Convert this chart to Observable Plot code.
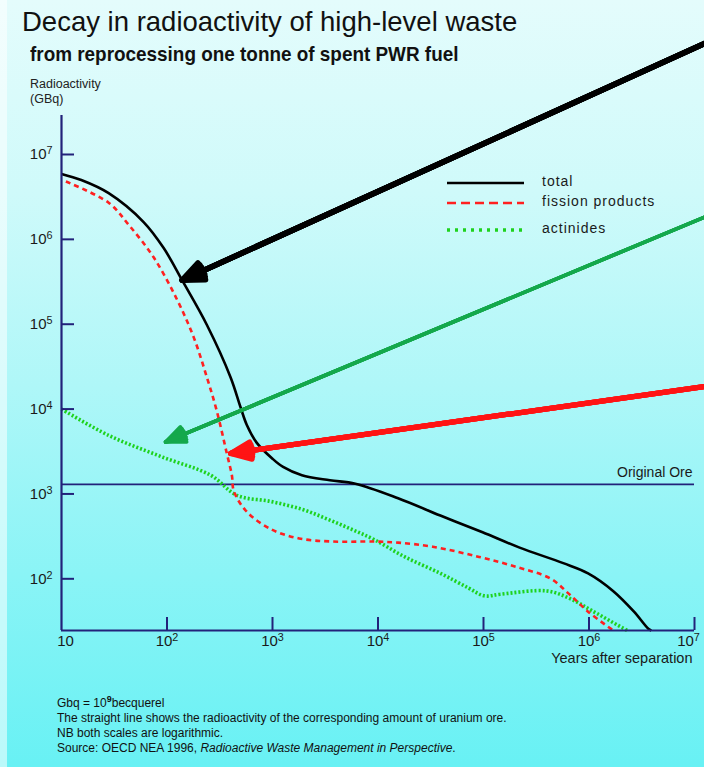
<!DOCTYPE html>
<html>
<head>
<meta charset="utf-8">
<script src="https://cdn.jsdelivr.net/npm/d3@7"></script>
<script src="https://cdn.jsdelivr.net/npm/@observablehq/plot@0.6"></script>
<style>
  html, body { margin: 0; padding: 0; }
  body {
    width: 704px; height: 767px; overflow: hidden;
    background: linear-gradient(to bottom, #e4fcfc 0%, #cffafa 25%, #aff7f8 50%, #8af4f6 75%, #68f1f4 100%);
    font-family: "Liberation Sans", Arial, Helvetica, sans-serif;
    color: #1a1a1a;
  }
  #wrap { position: relative; width: 704px; height: 767px; }
  #wrap::before { content: ""; position: absolute; left: 0; top: 0; width: 7px; height: 767px; background: rgba(255,255,255,0.55); }
  #chart { position: absolute; left: 0; top: 0; }
  .title { position: absolute; left: 22px; top: 6px; font-size: 27.5px; white-space: nowrap; color: #111; }
  .subtitle { position: absolute; left: 30px; top: 42px; font-size: 21px; font-weight: bold; white-space: nowrap;
              transform: scaleX(0.9); transform-origin: left center; color: #111; }
  .ylab { position: absolute; left: 30px; top: 77px; font-size: 12.5px; line-height: 15px; color: #222; }
  .legend { position: absolute; left: 446px; top: 172px; width: 240px; height: 70px; }
  .legend span { position: absolute; left: 96px; font-size: 14px; letter-spacing: 1px; color: #1a1a1a; white-space: nowrap; }
  .notes { position: absolute; left: 57px; top: 692px; font-size: 12px; line-height: 15px; color: #111; white-space: nowrap; }
  .notes sup { font-size: 9px; font-weight: bold; }
</style>
</head>
<body>
<div id="wrap">
  <div class="title">Decay in radioactivity of high-level waste</div>
  <div class="subtitle">from reprocessing one tonne of spent PWR fuel</div>
  <div class="ylab">Radioactivity<br>(GBq)</div>
  <div id="chart"></div>
  <div class="legend" id="legend"></div>
  <div class="notes">
    Gbq = 10<sup>9</sup>becquerel<br>
    The straight line shows the radioactivity of the corresponding amount of uranium ore.<br>
    NB both scales are logarithmic.<br>
    Source: OECD NEA 1996, <i>Radioactive Waste Management in Perspective</i>.
  </div>
</div>
<script>
// ---------------- data (years after separation, GBq) ----------------
const seriesNames = ["total", "fission products", "actinides"];

const totalYears = [10, 15.4, 28, 60, 93, 139, 239, 401, 498, 571, 710, 1000, 1260, 1900, 3500, 6100, 15500, 39000, 98000, 220000, 570000, 980000, 1690000, 2670000, 3630000, 3900000];
const totalGBq   = [5.9e6, 5.0e6, 3.5e6, 1.6e6, 7.9e5, 3.3e5, 9.8e4, 2.36e4, 1.05e4, 6.5e3, 4.0e3, 2.6e3, 2080, 1660, 1450, 1320, 890, 557, 353, 233, 153, 116, 72, 41, 26, 24.6];

const fissionYears = [11, 28, 44, 75, 124, 180, 239, 297, 369, 412, 430, 571, 964, 1790, 3700, 9200, 15500, 33000, 91000, 210000, 430000, 650000, 980000, 1700000];
const fissionGBq   = [4.8e6, 2.7e6, 1.45e6, 6.1e5, 1.97e5, 6.9e4, 2.36e4, 9.4e3, 3.0e3, 1660, 1080, 617, 385, 299, 275, 275, 267, 239, 181, 137, 101, 66, 41, 24.6];

const actinideYears = [10, 28, 87, 260, 459, 964, 1900, 3300, 5600, 9200, 18000, 39000, 72000, 102000, 147000, 400000, 650000, 1070000, 2300000];
const actinideGBq   = [1e4, 4.9e3, 2.77e3, 1660, 964, 815, 660, 507, 384, 290, 181, 116, 78, 63, 66, 72, 59, 42, 24.6];

const oreLabel = ["Original Ore"];
const oreGBq = [1300];

const xTicks = [10, 1e2, 1e3, 1e4, 1e5, 1e6, 1e7];
const yTicks = [1e2, 1e3, 1e4, 1e5, 1e6, 1e7];
const xDomain = [10, 1e7];
const yDomain = [24.6, 2.88e7];
const xLabel = ["Years after separation"];

// annotation arrows (from beyond the chart to each curve), in data units
const arrowSeries   = ["total", "actinides", "fission products"];
const arrowFromYear = [1.26e7, 1.26e7, 1.26e7];
const arrowFromGBq  = [2.04e8, 1.84e6, 1.85e4];
const arrowToYear   = [139, 97, 401];
const arrowToGBq    = [3.3e5, 4.1e3, 3.0e3];

// ---------------- styles ----------------
const navy = "#22227a";
const lineStyle = {
  "total":            {stroke: "#000000", strokeWidth: 2.6, strokeDasharray: null},
  "fission products": {stroke: "#ff2020", strokeWidth: 2.6, strokeDasharray: "5,4"},
  "actinides":        {stroke: "#1ed21e", strokeWidth: 3.6, strokeDasharray: "2,2"}
};
const arrowStyle = {
  "total":            {stroke: "#000000", strokeWidth: 5.5, head: 6.4},
  "actinides":        {stroke: "#14a84c", strokeWidth: 3.6, head: 8.8},
  "fission products": {stroke: "#ff1414", strokeWidth: 5.2, head: 6.4}
};

const rows = (xs, ys) => xs.map((x, i) => ({year: x, gbq: ys[i]}));
const seriesData = {
  "total": rows(totalYears, totalGBq),
  "fission products": rows(fissionYears, fissionGBq),
  "actinides": rows(actinideYears, actinideGBq)
};
const arrows = arrowSeries.map((s, i) => ({s, x1: arrowFromYear[i], y1: arrowFromGBq[i], x2: arrowToYear[i], y2: arrowToGBq[i]}));

const pow = (v) => { const e = Math.round(Math.log10(v)); return e === 1 ? "10" : "10^" + e; };

const lineMarks = ["actinides", "fission products", "total"].map(s =>
  Plot.line(seriesData[s], {x: "year", y: "gbq", curve: "catmull-rom", strokeLinecap: "butt", ...lineStyle[s]})
);
const arrowMarks = [];
for (const a of arrows) {
  const st = arrowStyle[a.s];
  for (const ang of [46, 32, 18, 4]) {
    arrowMarks.push(Plot.arrow([a], {x1: "x1", y1: "y1", x2: "x2", y2: "y2",
      stroke: st.stroke, strokeWidth: st.strokeWidth, headLength: st.head, headAngle: ang}));
  }
}

const plot = Plot.plot({
  width: 704, height: 680,
  marginTop: 115, marginLeft: 61, marginRight: 10, marginBottom: 50,
  style: {background: "transparent", overflow: "visible", fontFamily: "'Liberation Sans', Arial, sans-serif", color: "#1a1a1a"},
  x: {type: "log", domain: xDomain},
  y: {type: "log", domain: yDomain},
  marks: [
    Plot.ruleY(oreGBq, {stroke: navy, strokeWidth: 1.8}),
    Plot.text(oreLabel, {y: oreGBq[0], frameAnchor: "right", textAnchor: "end", text: d => d, dy: -12, dx: -2,
      fontSize: 14, fill: "#1a1a1a", style: "letter-spacing:1px"}),
    ...lineMarks,
    Plot.ruleX([xDomain[0]], {stroke: navy, strokeWidth: 2.2}),
    Plot.ruleY([yDomain[0]], {stroke: navy, strokeWidth: 2.2}),
    Plot.axisY(yTicks, {anchor: "left", tickSize: 13, dx: 13, text: null, stroke: navy, strokeWidth: 2, label: null}),
    Plot.axisY(yTicks, {anchor: "left", tickSize: 0, tickPadding: 9, tickFormat: pow, fontSize: 15, fill: "#1a1a1a", label: null}),
    Plot.axisX(xTicks.slice(1), {anchor: "bottom", tickSize: 13, dy: -13, text: null, stroke: navy, strokeWidth: 2, label: null}),
    Plot.axisX(xTicks.slice(0, 1), {anchor: "bottom", tickSize: 0, tickPadding: 5, tickFormat: pow, fontSize: 15, fill: "#1a1a1a", label: null, dx: 4}),
    Plot.axisX(xTicks.slice(1, -1), {anchor: "bottom", tickSize: 0, tickPadding: 5, tickFormat: pow, fontSize: 15, fill: "#1a1a1a", label: null}),
    Plot.axisX(xTicks.slice(-1), {anchor: "bottom", tickSize: 0, tickPadding: 5, tickFormat: pow, fontSize: 15, fill: "#1a1a1a", label: null, dx: -6}),
    Plot.text(xLabel, {frameAnchor: "bottom-right", textAnchor: "end", text: d => d, dy: 32, dx: -2, fontSize: 14.5, fill: "#1a1a1a"}),
    ...arrowMarks
  ]
});

// superscript exponents in tick labels
const svgns = "http://www.w3.org/2000/svg";
plot.querySelectorAll("text").forEach(t => {
  const m = /^10\^(\d+)$/.exec(t.textContent);
  if (m) {
    t.textContent = "10";
    const ts = document.createElementNS(svgns, "tspan");
    ts.setAttribute("dy", "-0.45em");
    ts.setAttribute("font-size", "0.72em");
    ts.textContent = m[1];
    t.appendChild(ts);
  }
});
document.getElementById("chart").appendChild(plot);

// legend (inside the plot area, top right)
const legend = document.getElementById("legend");
const legendRows = [11, 31, 58];
let lsvg = `<svg width="80" height="70" style="position:absolute;left:0;top:0">`;
seriesNames.forEach((s, i) => {
  const st = lineStyle[s];
  lsvg += `<line x1="1" x2="78" y1="${legendRows[i]}" y2="${legendRows[i]}" stroke="${st.stroke}" stroke-width="${st.strokeWidth}" ${st.strokeDasharray ? `stroke-dasharray="${s === "actinides" ? "3,5" : "9,5"}"` : ""}/>`;
});
lsvg += `</svg>`;
legend.innerHTML = lsvg + seriesNames.map((s, i) => `<span style="top:${legendRows[i] - 10}px">${s}</span>`).join("");
</script>
</body>
</html>
